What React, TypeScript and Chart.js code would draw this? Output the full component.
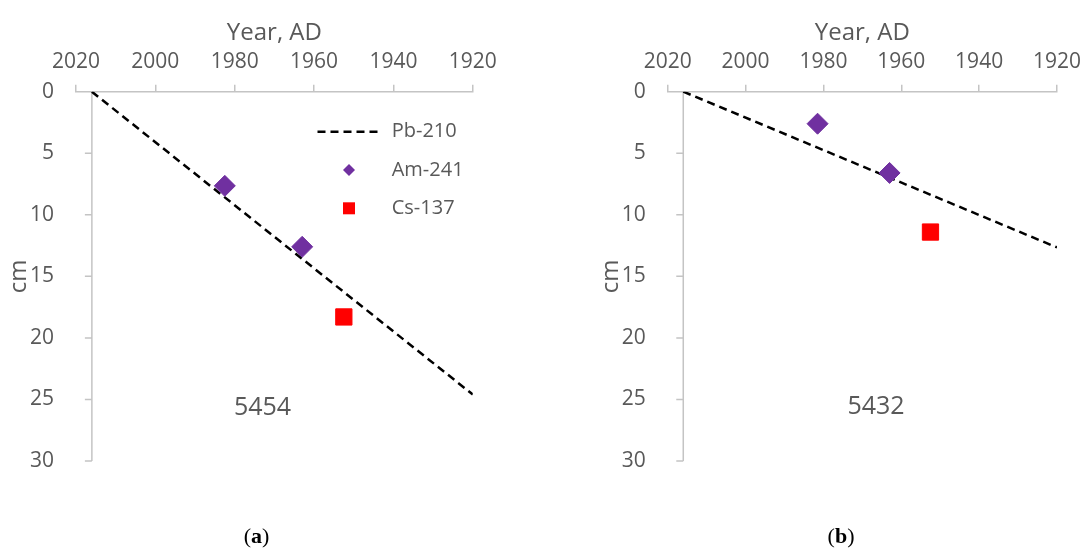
import React, { useEffect, useRef } from 'react';
import { Chart, registerables } from 'chart.js';

Chart.register(...registerables);

// ---------------- data ----------------
const yearTicks = [2020, 2000, 1980, 1960, 1940, 1920];
const depthTicks = [0, 5, 10, 15, 20, 25, 30];
const seriesLabels = ['Pb-210', 'Am-241', 'Cs-137'];
const xAxisTitle = 'Year, AD';
const yAxisTitle = 'cm';

// core 5454 (a)
const pbYearA = [2016, 1920];
const pbDepthA = [0, 24.6];
const amYearA = [1982.5, 1963];
const amDepthA = [7.65, 12.6];
const csYearA = [1952.5];
const csDepthA = [18.3];

// core 5432 (b)
const pbYearB = [2016, 1920];
const pbDepthB = [0, 12.65];
const amYearB = [1981.5, 1963];
const amDepthB = [2.6, 6.6];
const csYearB = [1952.5];
const csDepthB = [11.4];

const coreIds = ['5454', '5432'];
const coreIdYear = [1973, 1966.5];
const coreIdDepth = [25.7, 25.6];
const panelTags = ['a', 'b'];
const axisCrossYear = 2016;

// ---------------- styles ----------------
const TEXT = '#595959';
const AXIS = '#c4c4c4';
const FONT = "'Open Sans', sans-serif";
const PURPLE = '#7030a0';
const RED = '#ff0000';

const pts = (xs: number[], ys: number[]) => xs.map((x, i) => ({ x, y: ys[i] }));

const crossAxisPlugin = {
  id: 'crossAxis',
  beforeDatasetsDraw(chart: any, _a: any, o: any) {
    const xs = chart.scales.x;
    const ys = chart.scales.y;
    const x = xs.getPixelForValue(o.year);
    const ctx = chart.ctx;
    ctx.save();
    ctx.strokeStyle = o.color;
    ctx.lineWidth = o.width;
    ctx.beginPath();
    ctx.moveTo(x, ys.top);
    ctx.lineTo(x, ys.bottom);
    ys.ticks.forEach((t: any) => {
      if (t.value === ys.min) return;
      const y = ys.getPixelForValue(t.value);
      ctx.moveTo(x - o.tickLength, y);
      ctx.lineTo(x, y);
    });
    ctx.stroke();
    ctx.restore();
  },
};

const coreLabelPlugin = {
  id: 'coreLabel',
  afterDatasetsDraw(chart: any, _a: any, o: any) {
    const ctx = chart.ctx;
    const x = chart.scales.x.getPixelForValue(o.year);
    const y = chart.scales.y.getPixelForValue(o.depth);
    ctx.save();
    ctx.fillStyle = o.color;
    ctx.font = `${o.size}px ${FONT}`;
    ctx.textAlign = 'center';
    ctx.textBaseline = 'middle';
    ctx.fillText(o.text, x, y);
    ctx.restore();
  },
};

const isotopeLegendPlugin = {
  id: 'isotopeLegend',
  afterDatasetsDraw(chart: any, _a: any, o: any) {
    if (!o.display) return;
    const { ctx, chartArea } = chart;
    const cx = chartArea.left + o.sampleX;
    let cy = chartArea.top + o.firstY;
    chart.data.datasets.forEach((ds: any) => {
      ctx.save();
      if (ds.showLine) {
        ctx.strokeStyle = ds.borderColor;
        ctx.lineWidth = ds.borderWidth;
        ctx.setLineDash(ds.borderDash || []);
        ctx.beginPath();
        ctx.moveTo(cx - o.sampleWidth / 2, cy);
        ctx.lineTo(cx + o.sampleWidth / 2, cy);
        ctx.stroke();
      } else {
        ctx.fillStyle = ds.backgroundColor;
        ctx.beginPath();
        if (ds.pointStyle === 'rectRot') {
          const h = o.diamondHalf;
          ctx.moveTo(cx, cy - h);
          ctx.lineTo(cx + h, cy);
          ctx.lineTo(cx, cy + h);
          ctx.lineTo(cx - h, cy);
          ctx.closePath();
        } else {
          const h = o.squareHalf;
          ctx.rect(cx - h, cy - h, 2 * h, 2 * h);
        }
        ctx.fill();
      }
      ctx.restore();
      ctx.save();
      ctx.fillStyle = o.color;
      ctx.font = `${o.size}px ${FONT}`;
      ctx.textAlign = 'left';
      ctx.textBaseline = 'middle';
      ctx.fillText(ds.label, cx + o.textGap, cy);
      ctx.restore();
      cy += o.rowGap;
    });
  },
};

type Panel = {
  pbYear: number[]; pbDepth: number[];
  amYear: number[]; amDepth: number[];
  csYear: number[]; csDepth: number[];
  idx: number;
  width: number; left: number; right: number; padLeft: number; padBottom: number; top: number;
  legend: boolean;
};

function makeConfig(p: Panel): any {
  const datasets = [
    {
      label: seriesLabels[0], data: pts(p.pbYear, p.pbDepth), showLine: true,
      borderColor: '#000000', borderWidth: 2.5, borderDash: [8, 5],
      pointRadius: 0, pointHoverRadius: 0, order: 2,
    },
    {
      label: seriesLabels[1], data: pts(p.amYear, p.amDepth), showLine: false,
      pointStyle: 'rectRot', pointRadius: 10.5, pointHoverRadius: 10.5,
      backgroundColor: PURPLE, borderColor: PURPLE, borderWidth: 1, order: 1,
    },
    {
      label: seriesLabels[2], data: pts(p.csYear, p.csDepth), showLine: false,
      pointStyle: 'rect', pointRadius: 11.5, pointHoverRadius: 11.5,
      backgroundColor: RED, borderColor: RED, borderWidth: 1, order: 0,
    },
  ];
  return {
    type: 'scatter',
    data: { datasets },
    plugins: [crossAxisPlugin, coreLabelPlugin, isotopeLegendPlugin],
    options: {
      animation: false,
      responsive: false,
      devicePixelRatio: 1,
      events: [],
      layout: { padding: { left: p.padLeft, right: p.width - p.right, top: 0, bottom: p.padBottom } },
      scales: {
        x: {
          type: 'linear', position: 'top', reverse: true,
          min: Math.min(...yearTicks), max: Math.max(...yearTicks),
          afterBuildTicks: (s: any) => { s.ticks = yearTicks.map((v) => ({ value: v })); },
          afterFit: (s: any) => { s.height = p.top; },
          ticks: {
            color: TEXT, font: { family: FONT, size: 21 }, padding: 10,
            maxRotation: 0, autoSkip: false, callback: (v: any) => String(v),
          },
          grid: { display: true, drawOnChartArea: false, drawTicks: true, tickLength: 7, color: AXIS, lineWidth: 1.5 },
          border: { display: true, color: AXIS, width: 1.5 },
          title: {
            display: true, text: xAxisTitle, color: TEXT,
            font: { family: FONT, size: 24 }, padding: { top: 19, bottom: 0 },
          },
        },
        y: {
          type: 'linear', position: 'left', reverse: true,
          min: Math.min(...depthTicks), max: Math.max(...depthTicks),
          afterBuildTicks: (s: any) => { s.ticks = depthTicks.map((v) => ({ value: v })); },
          afterFit: (s: any) => { s.width = p.left - p.padLeft; },
          ticks: { color: TEXT, font: { family: FONT, size: 21 }, padding: 22, callback: (v: any) => String(v) },
          grid: { display: false, drawTicks: false },
          border: { display: false },
          title: {
            display: true, text: yAxisTitle, color: TEXT,
            font: { family: FONT, size: 24 }, padding: { top: 5, bottom: 0 },
          },
        },
      },
      plugins: {
        legend: { display: false },
        tooltip: { enabled: false },
        crossAxis: { year: axisCrossYear, color: AXIS, width: 1.5, tickLength: 7 },
        coreLabel: { text: coreIds[p.idx], year: coreIdYear[p.idx], depth: coreIdDepth[p.idx], color: TEXT, size: 25 },
        isotopeLegend: {
          display: p.legend, sampleX: 273, firstY: 40, rowGap: 38.3, sampleWidth: 63,
          textGap: 42.7, diamondHalf: 6, squareHalf: 6, color: TEXT, size: 20,
        },
      },
    },
  };
}

const panelA: Panel = {
  pbYear: pbYearA, pbDepth: pbDepthA, amYear: amYearA, amDepth: amDepthA, csYear: csYearA, csDepth: csDepthA,
  idx: 0, width: 545, left: 76, right: 472.8, padLeft: 0, padBottom: 87, top: 91.7, legend: true,
};
const panelB: Panel = {
  pbYear: pbYearB, pbDepth: pbDepthB, amYear: amYearB, amDepth: amDepthB, csYear: csYearB, csDepth: csDepthB,
  idx: 1, width: 546, left: 122.7, right: 519.3, padLeft: 46.7, padBottom: 87, top: 91.7, legend: false,
};

export default function App() {
  const refA = useRef<HTMLCanvasElement>(null);
  const refB = useRef<HTMLCanvasElement>(null);

  useEffect(() => {
    const a = new Chart(refA.current as HTMLCanvasElement, makeConfig(panelA));
    const b = new Chart(refB.current as HTMLCanvasElement, makeConfig(panelB));
    return () => { a.destroy(); b.destroy(); };
  }, []);

  const caption = (tag: string, left: number, width: number) => (
    <div
      style={{
        position: 'absolute', left, width, top: 522, textAlign: 'center',
        fontFamily: "'Liberation Serif', serif", fontSize: 22, lineHeight: '28px', color: '#000',
      }}
    >
      (<b>{tag}</b>)
    </div>
  );

  return (
    <div style={{ position: 'fixed', left: 0, top: 0, width: 1091, height: 548, background: '#ffffff', overflow: 'hidden' }}>
      <canvas ref={refA} width={545} height={548} style={{ position: 'absolute', left: 0, top: 0, width: 545, height: 548 }} />
      <canvas ref={refB} width={546} height={548} style={{ position: 'absolute', left: 545, top: 0, width: 546, height: 548 }} />
      {caption(panelTags[0], 0, 513)}
      {caption(panelTags[1], 545, 592)}
    </div>
  );
}
